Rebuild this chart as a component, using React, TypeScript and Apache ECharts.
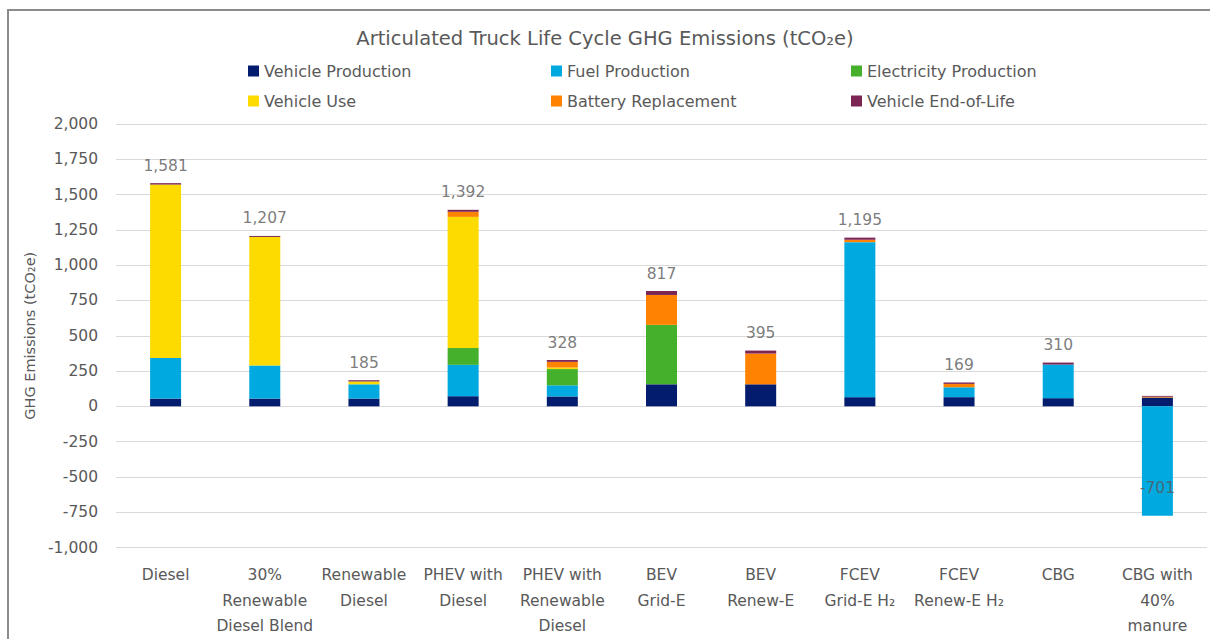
import React, { useEffect, useRef } from "react";
import * as echarts from "echarts";

const categories = [
  "Diesel",
  "30%\nRenewable\nDiesel Blend",
  "Renewable\nDiesel",
  "PHEV with\nDiesel",
  "PHEV with\nRenewable\nDiesel",
  "BEV\nGrid-E",
  "BEV\nRenew-E",
  "FCEV\nGrid-E H₂",
  "FCEV\nRenew-E H₂",
  "CBG",
  "CBG with\n40%\nmanure",
];

const vehicleProduction = [55, 55, 55, 72, 70, 156, 156, 65, 65, 58, 62];
const fuelProduction = [288, 235, 101, 222, 79, 0, 0, 1098, 70, 238, -775];
const electricityProduction = [0, 0, 0, 119, 115, 421, 0, 0, 0, 0, 0];
const vehicleUse = [1228, 910, 20, 929, 11, 0, 0, 0, 0, 0, 0];
const batteryReplacement = [0, 0, 0, 36, 40, 212, 218, 17, 24, 0, 6];
const vehicleEndOfLife = [10, 7, 9, 14, 13, 28, 21, 15, 10, 14, 6];

const yTicks = { min: -1000, max: 2000, interval: 250 };

const seriesDefs = [
  { name: "Vehicle Production", data: vehicleProduction, color: "#031c6e" },
  { name: "Fuel Production", data: fuelProduction, color: "#00a9e0" },
  { name: "Electricity Production", data: electricityProduction, color: "#44b02c" },
  { name: "Vehicle Use", data: vehicleUse, color: "#fddb00" },
  { name: "Battery Replacement", data: batteryReplacement, color: "#ff8300" },
  { name: "Vehicle End-of-Life", data: vehicleEndOfLife, color: "#7b2555" },
];

const totals = categories.map((_, i) =>
  seriesDefs.reduce((s, d) => s + d.data[i], 0)
);

const FONT = "'DejaVu Sans', sans-serif";
const GREY = "#595959";

export default function App() {
  const ref = useRef<HTMLDivElement>(null);
  useEffect(() => {
    if (!ref.current) return;
    const chart = echarts.init(ref.current, null, { renderer: "svg" });
    const legendCols = [
      { left: 243, names: ["Vehicle Production", "Vehicle Use"] },
      { left: 546, names: ["Fuel Production", "Battery Replacement"] },
      { left: 846, names: ["Electricity Production", "Vehicle End-of-Life"] },
    ];
    chart.setOption({
      animation: false,
      backgroundColor: "#ffffff",
      title: {
        text: "Articulated Truck Life Cycle GHG Emissions (tCO₂e)",
        left: "center",
        top: 23,
        textStyle: { fontFamily: FONT, fontSize: 19.5, fontWeight: "normal", color: GREY },
      },
      legend: legendCols.map((c) => ({
        orient: "vertical",
        left: c.left,
        top: 58,
        itemGap: 14,
        itemWidth: 11,
        itemHeight: 11,
        icon: "rect",
        data: c.names,
        selectedMode: false,
        textStyle: { fontFamily: FONT, fontSize: 16, color: GREY },
      })),
      grid: { left: 116, right: 3, top: 124, bottom: 84 },
      xAxis: {
        type: "category",
        data: categories,
        axisLine: { show: false },
        axisTick: { show: false },
        axisLabel: {
          interval: 0,
          margin: 15,
          fontFamily: FONT,
          fontSize: 15.5,
          lineHeight: 25.5,
          color: GREY,
          verticalAlign: "top",
        },
      },
      yAxis: {
        type: "value",
        min: yTicks.min,
        max: yTicks.max,
        interval: yTicks.interval,
        name: "GHG Emissions (tCO₂e)",
        nameLocation: "middle",
        nameGap: 72,
        nameTextStyle: { fontFamily: FONT, fontSize: 14.5, color: GREY },
        axisLabel: {
          margin: 18,
          fontFamily: FONT,
          fontSize: 15.5,
          color: GREY,
          formatter: (v: number) => v.toLocaleString("en-US"),
        },
        splitLine: { lineStyle: { color: "#d9d9d9", width: 1 } },
        axisLine: { show: false },
        axisTick: { show: false },
      },
      series: [
        ...seriesDefs.map((d) => ({
          name: d.name,
          type: "bar",
          stack: "total",
          barWidth: 31,
          data: d.data,
          itemStyle: { color: d.color },
        })),
        {
          name: "Total",
          type: "scatter",
          data: totals,
          symbolSize: 1,
          itemStyle: { color: "rgba(0,0,0,0)" },
          silent: true,
          z: 10,
          label: {
            show: true,
            position: "top",
            distance: 9,
            fontFamily: FONT,
            fontSize: 15.5,
            color: GREY,
            formatter: (p: any) => Number(p.value).toLocaleString("en-US"),
          },
        },
      ],
      graphic: [
        {
          type: "rect",
          shape: { x: 8, y: 10, width: 1240, height: 700 },
          style: { fill: "none", stroke: "#8c8c8c", lineWidth: 2 },
          silent: true,
        },
      ],
    });
    return () => chart.dispose();
  }, []);
  return (
    <div
      ref={ref}
      style={{ position: "fixed", left: 0, top: 0, width: 1210, height: 639 }}
    />
  );
}
